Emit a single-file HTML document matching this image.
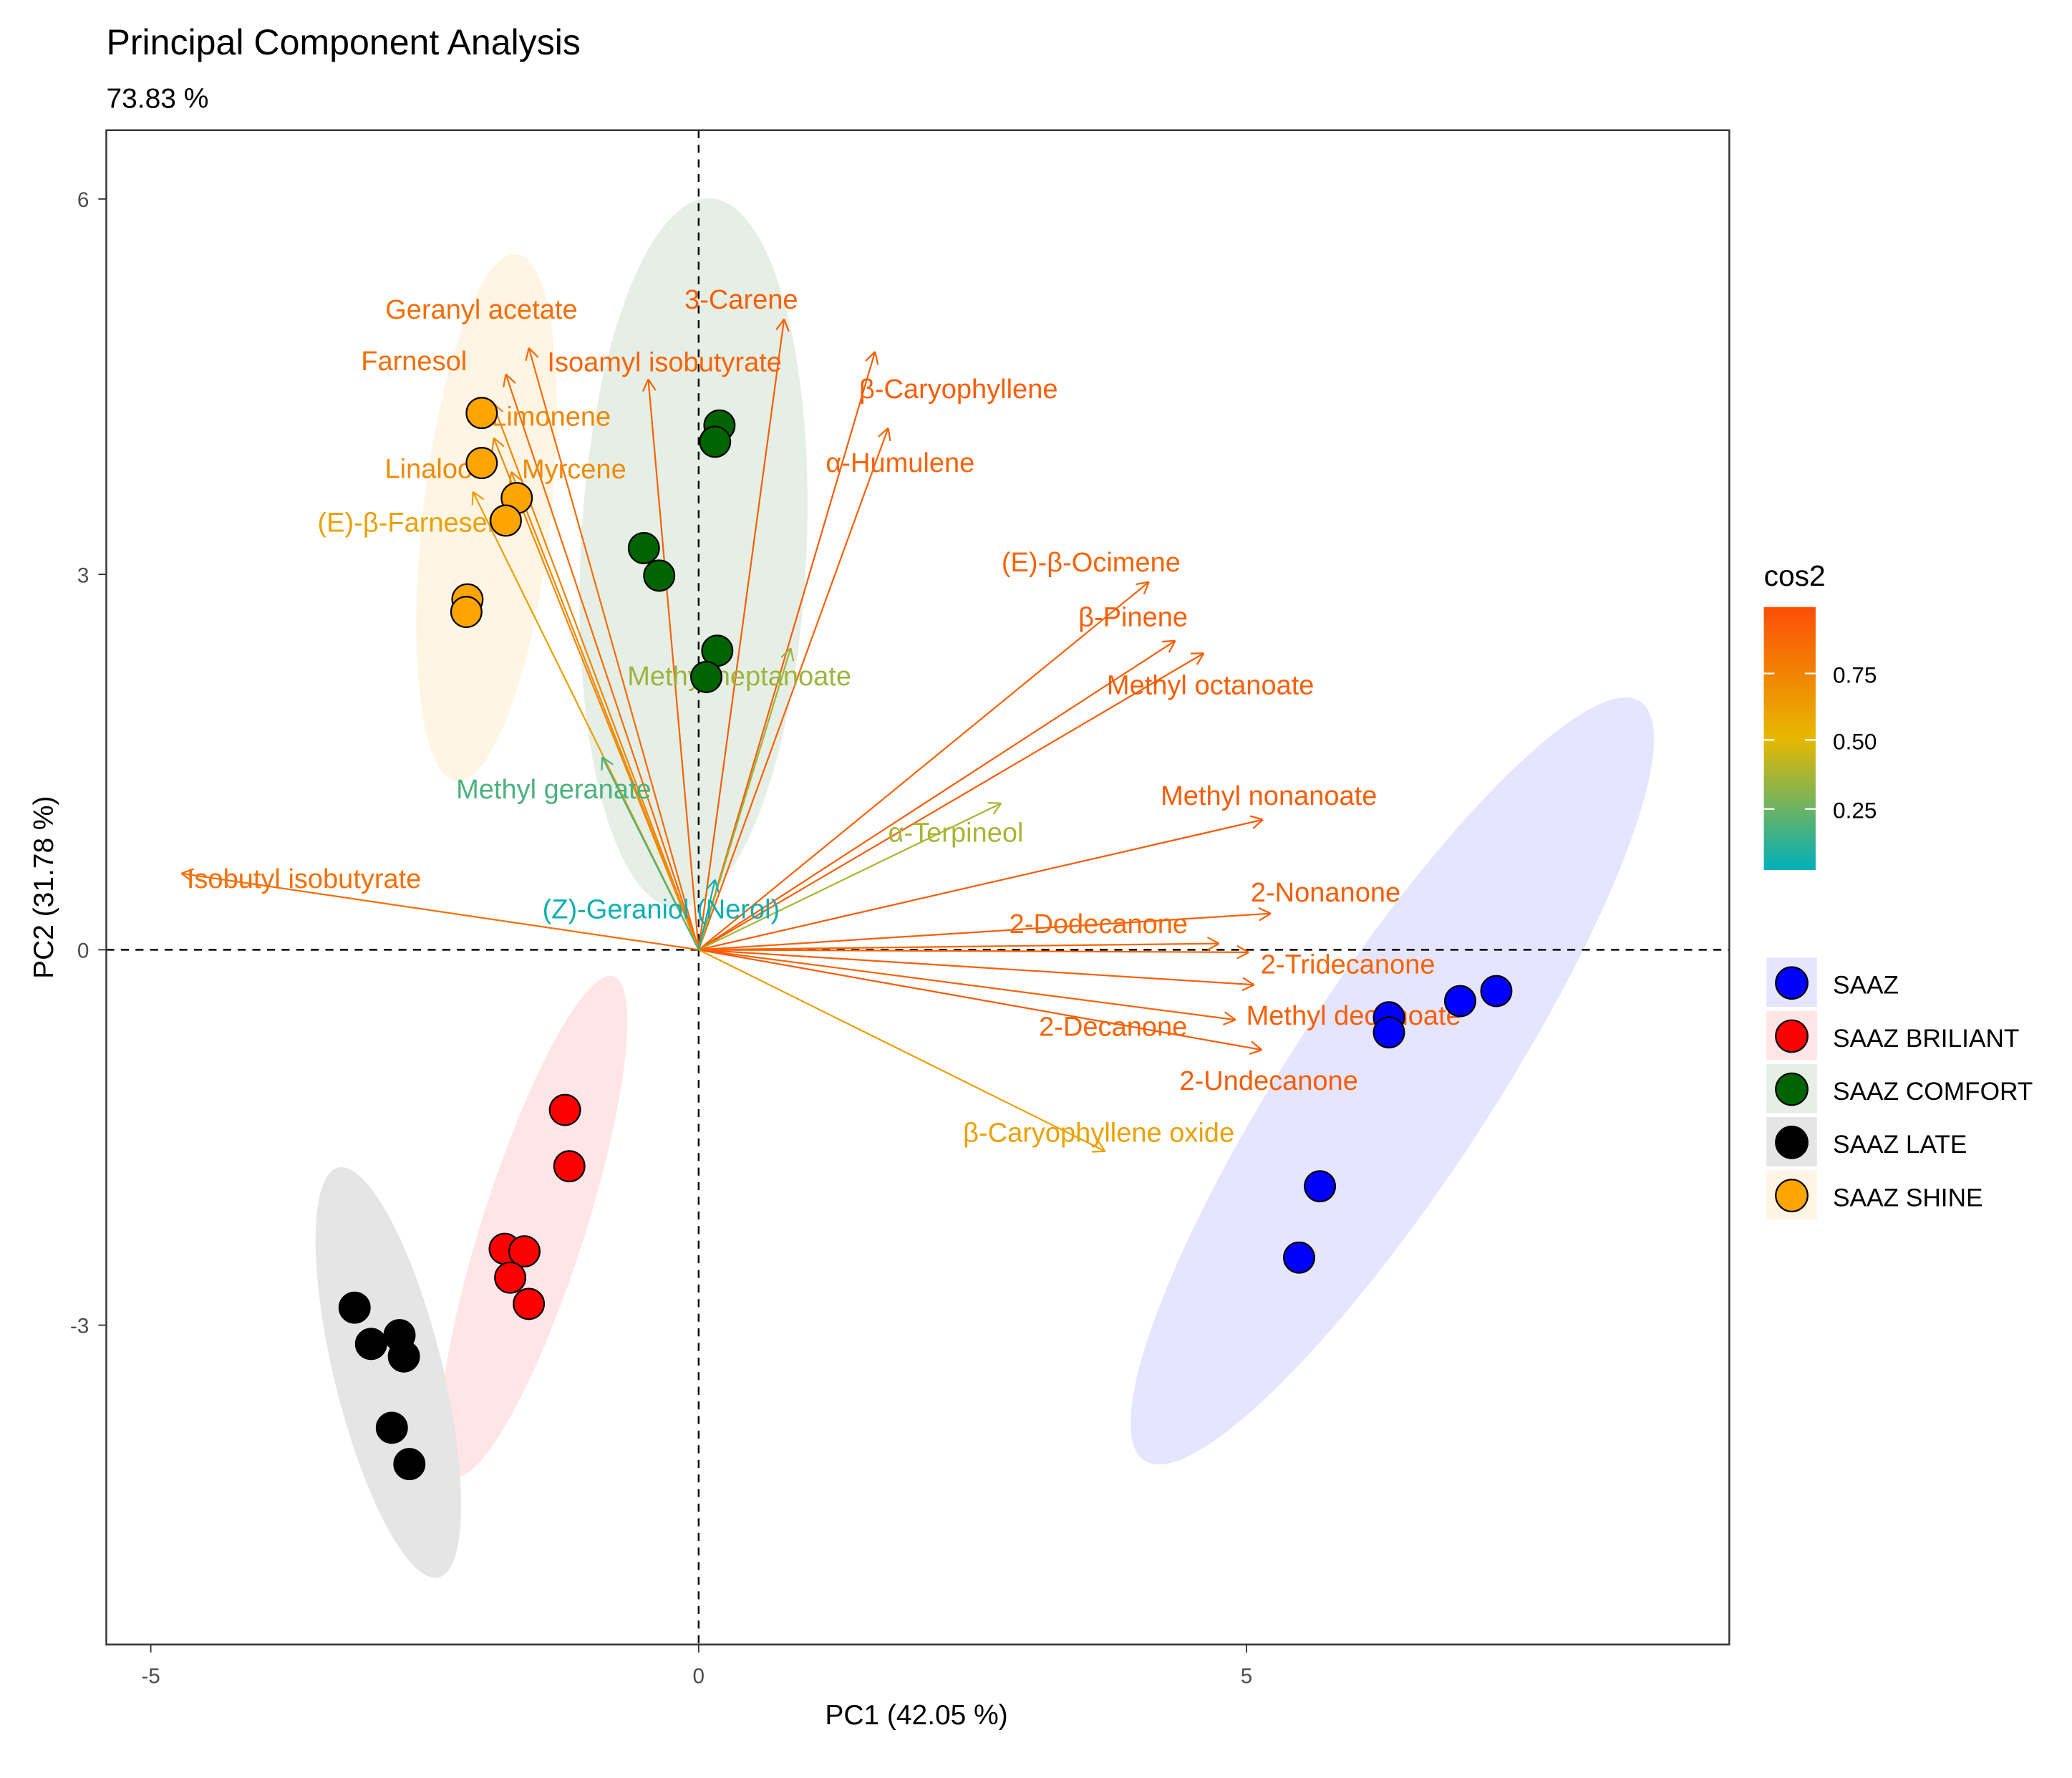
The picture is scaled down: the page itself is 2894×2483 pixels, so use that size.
<!DOCTYPE html>
<html><head><meta charset="utf-8"><style>
html,body{margin:0;padding:0;background:#fff}
svg{display:block}
text{font-family:"Liberation Sans",Arial,sans-serif}
</style></head><body>
<svg id="chart" width="2894" height="2483" viewBox="0 0 1560 1338.5" xmlns="http://www.w3.org/2000/svg">
<rect width="1560" height="1338.5" fill="#fff"/>
<text x="80" y="41" font-size="27" fill="#000">Principal Component Analysis</text>
<text x="80" y="81" font-size="21" fill="#000">73.83 %</text>
<g id="ell"></g>
<g id="axes"></g>
<g id="arrows"></g>
<g id="pts"></g>
<rect x="80" y="98" width="1222" height="1140" fill="none" stroke="#333" stroke-width="1.3"/>
<text x="690" y="1298" font-size="21" text-anchor="middle" fill="#000">PC1 (42.05 %)</text>
<text x="40" y="668" font-size="21" text-anchor="middle" fill="#000" transform="rotate(-90 40 668)">PC2 (31.78 %)</text>
<defs><linearGradient id="cg" x1="0" y1="1" x2="0" y2="0">
<stop offset="0" stop-color="#00AFBB"/><stop offset="0.5" stop-color="#E7B800"/><stop offset="1" stop-color="#FC4E07"/></linearGradient></defs>
<g>
<text x="1328" y="441" font-size="22" fill="#000">cos2</text>
<rect x="1328" y="457" width="39" height="198" fill="url(#cg)"/>
<g stroke="#fff" stroke-width="1.2">
<line x1="1328" y1="507" x2="1336" y2="507"/><line x1="1359" y1="507" x2="1367" y2="507"/>
<line x1="1328" y1="557" x2="1336" y2="557"/><line x1="1359" y1="557" x2="1367" y2="557"/>
<line x1="1328" y1="609" x2="1336" y2="609"/><line x1="1359" y1="609" x2="1367" y2="609"/>
</g>
<text x="1380" y="514" font-size="17" fill="#000">0.75</text>
<text x="1380" y="564" font-size="17" fill="#000">0.50</text>
<text x="1380" y="616" font-size="17" fill="#000">0.25</text>
</g>
<g id="legend"></g>
</svg>
<script>
const NS="http://www.w3.org/2000/svg";
const groups=["SAAZ","SAAZ BRILIANT","SAAZ COMFORT","SAAZ LATE","SAAZ SHINE"];
const groupColors=["#0000ff","#ff0000","#006400","#000000","#ffa500"];
const groupFills=["#e5e5ff","#ffe5e5","#e6efe6","#e5e5e5","#fff5e5"];
const ptX=[[6.30,6.30,6.95,7.28,5.67,5.48],[-1.22,-1.18,-1.77,-1.59,-1.72,-1.55],[0.19,0.15,-0.50,-0.36,0.17,0.07],[-3.14,-2.99,-2.73,-2.69,-2.80,-2.64],[-1.98,-1.98,-1.66,-1.76,-2.11,-2.12]];
const ptY=[[-0.54,-0.66,-0.41,-0.33,-1.89,-2.46],[-1.28,-1.73,-2.39,-2.41,-2.62,-2.83],[4.19,4.06,3.21,2.99,2.39,2.18],[-2.86,-3.15,-3.08,-3.25,-3.82,-4.11],[4.29,3.89,3.61,3.43,2.80,2.70]];
const varNames=["Isobutyl isobutyrate","Geranyl acetate","Farnesol","Isoamyl isobutyrate","3-Carene","β-Caryophyllene","α-Humulene","Limonene","Linalool","Myrcene","(E)-β-Farnesene","(E)-β-Ocimene","β-Pinene","Methyl octanoate","Methyl heptanoate","Methyl geranate","α-Terpineol","Methyl nonanoate","(Z)-Geraniol (Nerol)","2-Nonanone","2-Dodecanone","2-Tridecanone","Methyl decanoate","2-Decanone","2-Undecanone","β-Caryophyllene oxide"];
const varX=[-4.72,-1.55,-1.76,-0.46,0.78,1.61,1.73,-1.88,-1.87,-1.71,-2.06,4.11,4.35,4.61,0.84,-0.88,2.76,5.15,0.15,5.22,4.75,5.02,5.07,4.90,5.14,3.71];
const varY=[0.61,4.81,4.60,4.56,5.04,4.78,4.17,4.37,4.09,3.82,3.66,2.94,2.47,2.37,2.41,1.54,1.17,1.04,0.56,0.29,0.05,-0.02,-0.28,-0.56,-0.80,-1.61];
const varCos2=[0.85,0.86,0.86,0.9,0.92,0.92,0.9,0.74,0.72,0.72,0.62,0.9,0.92,0.92,0.35,0.18,0.38,0.93,0.05,0.92,0.88,0.9,0.92,0.9,0.93,0.62];
const xTicks=[-5,0,5];
const yTicks=[-3,0,3,6];
const labOff=[[4,11],[-108,-22],[-109,-3],[-76,-6],[-75,-8],[-12,35],[-47,33],[-1,17],[-82,30],[8,5],[-117,30],[-111,-8],[-73,-11],[-73,31],[-123,28],[-110,31],[-85,29],[-77,-11],[-130,29],[-15,-9],[-158,-8],[9,16],[-6,30],[-148,12],[-62,30],[-107,-7]];
const X=v=>526+82.5*v, Y=v=>715-94.2*v;
const C0=0.025,C1=0.995;
function lerp(a,b,t){return Math.round(a+(b-a)*t);}
function colorOf(c){let t=(c-C0)/(C1-C0);t=Math.max(0,Math.min(1,t));
 let a,b,u;if(t<0.5){a=[0,175,187];b=[231,184,0];u=t/0.5;}else{a=[231,184,0];b=[252,78,7];u=(t-0.5)/0.5;}
 return "rgb("+lerp(a[0],b[0],u)+","+lerp(a[1],b[1],u)+","+lerp(a[2],b[2],u)+")";}
function mk(tag,attrs,parent){const e=document.createElementNS(NS,tag);for(const k in attrs)e.setAttribute(k,attrs[k]);parent.appendChild(e);return e;}
const ell=document.getElementById('ell');
groups.forEach((g,i)=>{
 const px=ptX[i].map(X),py=ptY[i].map(Y),n=px.length;
 const mx=px.reduce((a,b)=>a+b)/n,my=py.reduce((a,b)=>a+b)/n;
 let sxx=0,syy=0,sxy=0;for(let k=0;k<n;k++){sxx+=(px[k]-mx)**2;syy+=(py[k]-my)**2;sxy+=(px[k]-mx)*(py[k]-my);}
 sxx/=n-1;syy/=n-1;sxy/=n-1;
 const tr=sxx+syy,det=sxx*syy-sxy*sxy,d=Math.sqrt(Math.max(tr*tr/4-det,0));
 const l1=tr/2+d,l2=Math.max(tr/2-d,1);const ang=Math.atan2(l1-sxx,sxy)*180/Math.PI;
 const k=Math.sqrt(2*3.1);
 const e=mk('ellipse',{cx:mx,cy:my,rx:k*Math.sqrt(l1)*1.37,ry:k*Math.sqrt(l2)*1.38,transform:"rotate("+ang+" "+mx+" "+my+")",fill:groupFills[i]},ell);
 
 
});
const ax=document.getElementById('axes');
mk('line',{x1:X(0),y1:98,x2:X(0),y2:1238,stroke:'#000','stroke-dasharray':'6,5','stroke-width':1.3},ax);
mk('line',{x1:80,y1:Y(0),x2:1302,y2:Y(0),stroke:'#000','stroke-dasharray':'6,5','stroke-width':1.3},ax);
xTicks.forEach(t=>{mk('line',{x1:X(t),y1:1238,x2:X(t),y2:1244,stroke:'#333'},ax);
 const tx=mk('text',{x:X(t),y:1267,'font-size':16,'text-anchor':'middle',fill:'#4d4d4d'},ax);tx.textContent=t;
 
 });
yTicks.forEach(t=>{mk('line',{x1:74,y1:Y(t),x2:80,y2:Y(t),stroke:'#333'},ax);
 const tx=mk('text',{x:67,y:Y(t)+6,'font-size':16,'text-anchor':'end',fill:'#4d4d4d'},ax);tx.textContent=t;
 
 });
const ar=document.getElementById('arrows');
varNames.forEach((nm,i)=>{
 const c=colorOf(varCos2[i]),x2=X(varX[i]),y2=Y(varY[i]),x1=X(0),y1=Y(0);
 const g=mk('g',{},ar);
 
 
 mk('line',{x1:x1,y1:y1,x2:x2,y2:y2,stroke:c,'stroke-width':1.2},g);
 const a=Math.atan2(y2-y1,x2-x1),L=10;
 [0.5,-0.5].forEach(s=>mk('line',{x1:x2,y1:y2,x2:x2-L*Math.cos(a+s),y2:y2-L*Math.sin(a+s),stroke:c,'stroke-width':1.2},g));
 const t=mk('text',{x:x2+labOff[i][0],y:y2+labOff[i][1],'font-size':20.5,fill:c},g);t.textContent=nm;
});
const pts=document.getElementById('pts');
groups.forEach((g,i)=>{ptX[i].forEach((v,k)=>{
 const c=mk('circle',{cx:X(v),cy:Y(ptY[i][k]),r:11.5,fill:groupColors[i],stroke:'#000','stroke-width':1.2},pts);
 
 
});});
const lg=document.getElementById('legend');
groups.forEach((g,i)=>{const y=740+40*i;
 const e=mk('g',{},lg);
 
 
 mk('rect',{x:1330,y:y-19,width:38,height:37,fill:groupFills[i]},e);
 mk('circle',{cx:1349,cy:y,r:12,fill:groupColors[i],stroke:'#000','stroke-width':1.2},e);
 const t=mk('text',{x:1380,y:y+8,'font-size':19,fill:'#000'},e);t.textContent=g;});
</script>
</body></html>
